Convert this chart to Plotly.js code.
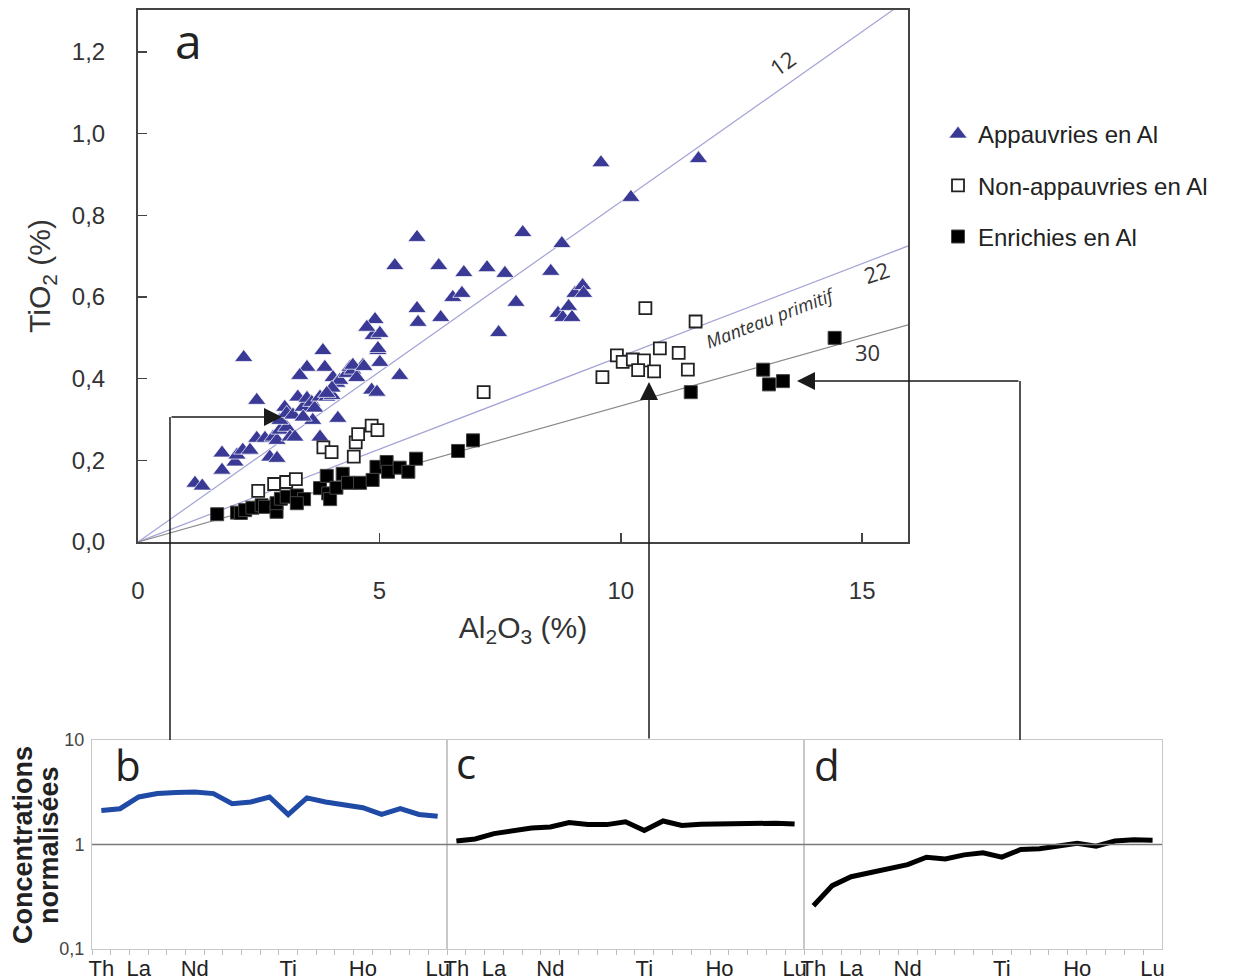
<!DOCTYPE html>
<html><head><meta charset="utf-8">
<script src="https://cdn.plot.ly/plotly-3.0.1.min.js"></script>
<style>html,body{margin:0;padding:0;background:#fff}#chart{width:1234px;height:980px}</style>
</head><body><div id="chart"></div>
<script>
// ---- Panel a data: Al2O3 (%) vs TiO2 (%) ----
const appauvriesAl2O3 = [1.18,1.33,1.74,1.74,2.01,2.05,2.17,2.32,2.46,2.63,2.80,2.88,2.19,2.46,2.73,2.88,2.94,3.08,3.15,3.25,2.94,3.04,3.08,3.21,3.31,3.42,3.50,3.60,3.66,3.77,3.91,4.02,4.14,3.77,3.62,3.42,3.50,3.35,3.83,3.87,4.04,4.12,4.18,4.33,4.39,4.45,4.53,4.66,4.84,4.97,5.01,4.87,5.01,5.42,4.02,3.91,4.95,5.78,7.97,8.78,5.32,6.23,6.75,7.23,7.60,8.55,6.52,6.71,7.83,5.78,5.80,6.27,7.47,9.05,9.21,9.23,8.70,8.80,8.92,8.99,4.91,4.74,4.97,9.59,10.21,11.61,4.45,4.68];
const appauvriesTiO2  = [0.144,0.137,0.218,0.176,0.196,0.213,0.225,0.225,0.254,0.254,0.257,0.249,0.452,0.347,0.208,0.205,0.274,0.281,0.257,0.257,0.298,0.330,0.315,0.311,0.355,0.330,0.352,0.342,0.328,0.355,0.355,0.359,0.303,0.257,0.298,0.306,0.428,0.408,0.469,0.428,0.403,0.389,0.396,0.413,0.428,0.421,0.403,0.433,0.372,0.469,0.440,0.506,0.511,0.408,0.377,0.364,0.367,0.746,0.758,0.731,0.677,0.677,0.660,0.672,0.658,0.663,0.599,0.609,0.587,0.572,0.538,0.550,0.513,0.609,0.628,0.609,0.560,0.550,0.577,0.550,0.545,0.526,0.474,0.929,0.844,0.939,0.433,0.430];

const nonAppAl2O3 = [2.49,2.82,3.07,3.27,3.84,4.01,4.47,4.51,4.56,4.84,4.96,7.16,10.51,11.55,9.92,10.04,10.25,10.48,10.81,11.20,11.39,9.62,10.36,10.69];
const nonAppTiO2  = [0.125,0.142,0.147,0.154,0.232,0.220,0.209,0.244,0.264,0.285,0.274,0.367,0.573,0.540,0.457,0.441,0.447,0.445,0.474,0.463,0.422,0.404,0.421,0.418];

const enrichAl2O3 = [1.64,2.05,2.13,2.22,2.37,2.56,2.63,2.87,2.87,2.96,3.08,3.29,3.44,3.29,3.77,3.91,3.94,3.98,4.11,4.24,4.35,4.60,4.86,4.94,5.15,5.18,5.42,5.60,5.76,6.63,6.94,11.45,12.95,13.07,13.36,14.43];
const enrichTiO2  = [0.068,0.072,0.071,0.078,0.084,0.090,0.086,0.074,0.095,0.106,0.111,0.114,0.105,0.095,0.132,0.162,0.119,0.105,0.133,0.167,0.145,0.145,0.152,0.184,0.196,0.172,0.182,0.172,0.204,0.223,0.249,0.367,0.422,0.386,0.394,0.500];

// Al2O3/TiO2 reference ratios
const ratios = [12, 22, 30];
const ratioLabels = ['12', '22', '30'];

const xTicksA = [0, 5, 10, 15];
const yTicksA = [0, 0.2, 0.4, 0.6, 0.8, 1.0, 1.2];

// ---- Panels b, c, d: normalised spider diagrams ----
const elements = ['Th','Nb','La','Ce','Pr','Nd','Zr','Hf','Sm','Eu','Ti','Gd','Tb','Dy','Ho','Y','Er','Yb','Lu'];
const labelledElements = ['Th','La','Nd','Ti','Ho','Lu'];
const profileB = [2.12,2.20,2.85,3.07,3.14,3.18,3.07,2.46,2.55,2.85,1.93,2.79,2.55,2.42,2.25,1.94,2.20,1.94,1.86];
const profileC = [1.08,1.13,1.27,1.36,1.44,1.47,1.62,1.55,1.55,1.65,1.36,1.68,1.52,1.56,1.58,1.60,1.60,1.60,1.57];
const profileD = [0.259,0.404,0.492,0.542,0.597,0.642,0.756,0.728,0.796,0.832,0.756,0.895,0.909,0.978,1.03,0.963,1.08,1.11,1.10];
const spiderTickVals = [0.1, 1, 10];
const spiderTickText = ['0,1', '1', '10'];

// ---- helpers (figure pixel -> paper) ----
const W = 1234, H = 980;
const px = v => v / W;
const py = v => 1 - v / H;

const SANS = 'Liberation Sans, Arial, sans-serif';
const HUM = 'Open Sans, Noto Sans, sans-serif';

const traces = [];
const ratioColors = ['#a3a3d6', '#a3a3d6', '#8a8a8a'];
ratios.forEach((r, i) => {
  traces.push({
    x: [0, 16], y: [0, 16 / r], mode: 'lines', xaxis: 'x', yaxis: 'y',
    line: {color: ratioColors[i], width: 1.2}, showlegend: false, hoverinfo: 'skip'
  });
});
traces.push({
  name: 'Appauvries en Al', x: appauvriesAl2O3, y: appauvriesTiO2, mode: 'markers', type: 'scatter',
  xaxis: 'x', yaxis: 'y', legendgroup: 'g1',
  marker: {symbol: 'triangle-up', size: 16, color: '#3a3a96', line: {color: '#ffffff', width: 0.7}}
});
traces.push({
  name: 'Non-appauvries en Al', x: nonAppAl2O3, y: nonAppTiO2, mode: 'markers', type: 'scatter',
  xaxis: 'x', yaxis: 'y', legendgroup: 'g2',
  marker: {symbol: 'square', size: 12, color: '#ffffff', line: {color: '#222222', width: 1.8}}
});
traces.push({
  name: 'Enrichies en Al', x: enrichAl2O3, y: enrichTiO2, mode: 'markers', type: 'scatter',
  xaxis: 'x', yaxis: 'y', legendgroup: 'g3',
  marker: {symbol: 'square', size: 13, color: '#000000', line: {color: '#444444', width: 1}}
});
const profiles = [profileB, profileC, profileD];
const profColors = ['#1f4aa6', '#000000', '#000000'];
profiles.forEach((p, i) => {
  traces.push({
    x: elements, y: p, mode: 'lines', xaxis: 'x' + (i + 2), yaxis: 'y' + (i + 2),
    line: {color: profColors[i], width: 5}, showlegend: false
  });
});

const layout = {
  width: W, height: H,
  margin: {l: 0, r: 0, t: 0, b: 0},
  paper_bgcolor: '#ffffff', plot_bgcolor: 'rgba(0,0,0,0)',
  separators: ', ',
  showlegend: true,
  legend: {x: px(938), y: py(112), xanchor: 'left', yanchor: 'top', tracegroupgap: 17,
           font: {family: SANS, size: 24, color: '#222'}, bgcolor: 'rgba(0,0,0,0)'},
  xaxis: {
    domain: [px(138), px(908)], range: [0, 15.95], anchor: 'y',
    tickmode: 'array', tickvals: xTicksA, ticks: 'inside', ticklen: 9, tickwidth: 1.5, tickcolor: '#444',
    showline: true, mirror: true, linecolor: '#444', linewidth: 2, showgrid: false, zeroline: false,
    tickfont: {family: SANS, size: 24, color: '#333'}, ticklabelstandoff: 26,
    title: {text: 'Al<sub>2</sub>O<sub>3</sub> (%)', font: {family: SANS, size: 30, color: '#333'}, standoff: 14}
  },
  yaxis: {
    domain: [py(542), py(10)], range: [0, 1.303], anchor: 'x',
    tickmode: 'array', tickvals: yTicksA, tickformat: '.1f', ticks: 'inside', ticklen: 9, tickwidth: 1.5, tickcolor: '#444',
    showline: true, mirror: true, linecolor: '#444', linewidth: 2, showgrid: false, zeroline: false,
    tickfont: {family: SANS, size: 24, color: '#333'}, ticklabelstandoff: 26,
    title: {text: 'TiO<sub>2</sub> (%)', font: {family: SANS, size: 30, color: '#333'}, standoff: 12}
  },
  shapes: [],
  annotations: []
};

const panelX = [[92, 447], [447, 804], [804, 1162]];
const tickText = elements.map(e => labelledElements.includes(e) ? e : '');
panelX.forEach((d, i) => {
  const n = i + 2;
  layout['xaxis' + n] = {
    domain: [px(d[0]), px(d[1])], anchor: 'y' + n, type: 'category', range: [-0.5, elements.length - 0.5],
    tickmode: 'array', tickvals: elements, ticktext: tickText, tickson: 'boundaries', tickangle: 0,
    ticks: 'outside', ticklen: 5, tickcolor: '#bdbdbd', tickwidth: 1,
    showline: true, mirror: true, linecolor: '#c8c8c8', linewidth: 1, showgrid: false, zeroline: false,
    tickfont: {family: SANS, size: 22, color: '#222'}, ticklabelstandoff: 0
  };
  layout['yaxis' + n] = {
    domain: [py(949), py(740)], anchor: 'x' + n, type: 'log', range: [-1, 1],
    tickmode: 'array', tickvals: spiderTickVals, ticktext: spiderTickText, ticks: '',
    showticklabels: i === 0,
    showline: true, mirror: true, linecolor: '#c8c8c8', linewidth: 1, showgrid: false, zeroline: false,
    tickfont: {family: SANS, size: 18, color: '#444'}, ticklabelstandoff: 3
  };
  layout.shapes.push({type: 'line', xref: 'x' + n + ' domain', yref: 'y' + n, x0: 0, x1: 1, y0: 1, y1: 1,
                      line: {color: '#7a7a7a', width: 1.5}, layer: 'above'});
});

// connecting arrows (panel a -> b, c, d)
const ARR = '#1a1a1a';
layout.shapes.push({type: 'line', xref: 'paper', yref: 'paper', x0: px(170), x1: px(170), y0: py(740), y1: py(417),
                    line: {color: ARR, width: 1.5}, layer: 'above'});
layout.shapes.push({type: 'line', xref: 'paper', yref: 'paper', x0: px(1020), x1: px(1020), y0: py(740), y1: py(381),
                    line: {color: ARR, width: 1.5}, layer: 'above'});
const arrowBase = {xref: 'paper', yref: 'paper', text: '', showarrow: true, arrowhead: 2, arrowsize: 2.4,
                   arrowwidth: 1.5, arrowcolor: ARR};
layout.annotations.push(Object.assign({}, arrowBase, {x: px(282), y: py(417), ax: -112, ay: 0}));
layout.annotations.push(Object.assign({}, arrowBase, {x: px(649), y: py(382), ax: 0, ay: 358}));
layout.annotations.push(Object.assign({}, arrowBase, {x: px(797), y: py(381), ax: 223, ay: 0}));

// ratio line labels
const ratioLabelPos = [[13.34, 1.173, -35], [15.29, 0.661, -18], [15.12, 0.465, 0]];
ratioLabelPos.forEach((p, i) => layout.annotations.push({xref: 'x', yref: 'y', x: p[0], y: p[1], text: ratioLabels[i],
  showarrow: false, textangle: p[2], xanchor: 'center', yanchor: 'middle', font: {family: HUM, size: 22, color: '#333'}}));
layout.annotations.push({xref: 'x', yref: 'y', x: 13.09, y: 0.549, text: '<i>Manteau primitif</i>', showarrow: false, textangle: -21,
                         xanchor: 'center', yanchor: 'middle', font: {family: HUM, size: 18, color: '#333'}});

// panel letters
const letters = [['a', 188, 40, 48], ['b', 128, 764, 42], ['c', 466, 762, 42], ['d', 827, 764, 42]];
letters.forEach(l => layout.annotations.push({xref: 'paper', yref: 'paper', x: px(l[1]), y: py(l[2]), text: l[0],
  xanchor: 'center', yanchor: 'middle', showarrow: false, font: {family: HUM, size: l[3], color: '#222'}}));

// spider y title
layout.annotations.push({xref: 'paper', yref: 'paper', x: px(23), y: py(845), text: '<b>Concentrations</b>', showarrow: false,
                         xanchor: 'center', yanchor: 'middle', textangle: -90, font: {family: SANS, size: 27, color: '#222'}});
layout.annotations.push({xref: 'paper', yref: 'paper', x: px(49), y: py(845), text: '<b>normalisées</b>', showarrow: false,
                         xanchor: 'center', yanchor: 'middle', textangle: -90, font: {family: SANS, size: 27, color: '#222'}});

Plotly.newPlot('chart', traces, layout, {staticPlot: true, displayModeBar: false});
</script></body></html>
